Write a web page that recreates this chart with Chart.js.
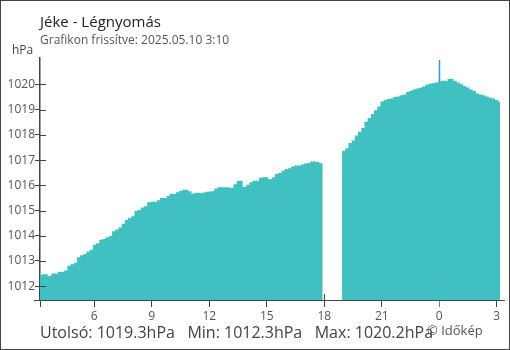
<!DOCTYPE html>
<html>
<head>
<meta charset="utf-8">
<script src="https://cdn.jsdelivr.net/npm/chart.js@4"></script>
<style>
  body { margin: 0; background: #fff; }
  #wrap { position: relative; width: 510px; height: 350px; box-sizing: border-box; border: 1px solid #444; background: #fff; font-family: "Open Sans", sans-serif; }
  #wrap canvas { position: absolute; left: 0; top: 0; }
  .txt { position: absolute; white-space: pre; }
  #title { left: 39px; top: 10px; font-size: 15px; line-height: 20px; color: #222; }
  #sub { left: 39px; top: 31px; font-size: 12px; line-height: 16px; color: #555; }
  #unit { left: 11px; top: 41px; font-size: 12px; line-height: 16px; color: #444; }
  #stats { left: 39px; top: 321px; font-size: 16px; line-height: 21px; color: #444; }
  #copy { left: 426px; top: 321px; font-size: 13px; line-height: 17px; color: #555; }
</style>
</head>
<body>
<div id="wrap">
  <canvas id="chart" width="508" height="348"></canvas>
  <div class="txt" id="title">Jéke - Légnyomás</div>
  <div class="txt" id="sub">Grafikon frissítve: 2025.05.10 3:10</div>
  <div class="txt" id="unit">hPa</div>
  <div class="txt" id="stats">Utolsó: 1019.3hPa   Min: 1012.3hPa   Max: 1020.2hPa</div>
  <div class="txt" id="copy">© Időkép</div>
</div>
<script>
// 10 perces értékek 03:10-tól (előző nap) 03:10-ig, hPa
const pressure = [
  1012.42, 1012.45, 1012.33, 1012.38, 1012.48, 1012.45, 1012.55, 1012.53, 1012.60, 1012.78,
  1012.84, 1012.90, 1013.12, 1013.20, 1013.25, 1013.35, 1013.42, 1013.62, 1013.68, 1013.82,
  1013.85, 1013.92, 1013.97, 1014.15, 1014.22, 1014.30, 1014.45, 1014.60, 1014.68, 1014.75,
  1014.97, 1015.00, 1015.10, 1015.15, 1015.30, 1015.32, 1015.30, 1015.38, 1015.47, 1015.45,
  1015.55, 1015.64, 1015.62, 1015.70, 1015.76, 1015.80, 1015.74, 1015.62, 1015.65, 1015.68,
  1015.64, 1015.68, 1015.72, 1015.72, 1015.74, 1015.85, 1015.90, 1015.88, 1015.90, 1015.86,
  1015.88, 1016.02, 1016.15, 1015.90, 1015.92, 1016.00, 1016.10, 1016.16, 1016.14, 1016.28,
  1016.30, 1016.22, 1016.22, 1016.30, 1016.42, 1016.46, 1016.55, 1016.62, 1016.65, 1016.72,
  1016.76, 1016.74, 1016.80, 1016.84, 1016.85, 1016.92, 1016.90, 1016.85,
  null, null, null, null, null, null, null,
  1017.35, 1017.45, 1017.65, 1017.75, 1017.95, 1018.10, 1018.25, 1018.50, 1018.65, 1018.80,
  1018.95, 1019.10, 1019.30, 1019.35, 1019.40, 1019.42, 1019.48, 1019.50, 1019.55, 1019.58,
  1019.68, 1019.72, 1019.78, 1019.82, 1019.85, 1019.90, 1019.97, 1020.00, 1020.02, 1020.05,
  1020.10, 1020.12, 1020.08, 1020.20, 1020.12, 1020.05, 1019.98, 1019.92, 1019.86, 1019.78,
  1019.72, 1019.62, 1019.58, 1019.55, 1019.50, 1019.45, 1019.42, 1019.36, 1019.30
];
const startHour = 3 + 10 / 60;
const stepHours = 10 / 60;
const times = pressure.map((v, i) => startHour + (i + 0.5) * stepHours);
const xTicks = [6, 9, 12, 15, 18, 21, 24, 27];
const yTicks = [1012, 1013, 1014, 1015, 1016, 1017, 1018, 1019, 1020];
const midnight = 24;

const axisColor = '#444';
const barColor = 'rgb(65, 192, 193)';
const dayColor = '#3b95d1';

const extras = {
  id: 'extras',
  beforeDatasetsDraw(chart) {
    const { ctx, chartArea } = chart;
    const x = Math.round(chart.scales.x.getPixelForValue(midnight)) + 0.5;
    ctx.save();
    ctx.strokeStyle = dayColor;
    ctx.lineWidth = 1.5;
    ctx.beginPath();
    ctx.moveTo(x, chartArea.top + 2);
    ctx.lineTo(x, chartArea.bottom);
    ctx.stroke();
    ctx.restore();
  },
  afterDraw(chart) {
    const { ctx, chartArea } = chart;
    const y = chart.scales.y;
    ctx.save();
    ctx.strokeStyle = axisColor;
    ctx.lineWidth = 1;
    ctx.beginPath();
    // x tengely kinyúlik
    ctx.moveTo(chartArea.left - 6, chartArea.bottom + 0.5);
    ctx.lineTo(chartArea.right + 5, chartArea.bottom + 0.5);
    // y tengely lefelé
    ctx.moveTo(chartArea.left + 0.5, chartArea.bottom);
    ctx.lineTo(chartArea.left + 0.5, chartArea.bottom + 7);
    yTicks.forEach(v => {
      const py = Math.round(y.getPixelForValue(v)) + 0.5;
      ctx.moveTo(chartArea.left, py);
      ctx.lineTo(chartArea.left + 6, py);
    });
    // 18 órás jel
    const p18 = Math.round(chart.scales.x.getPixelForValue(18)) + 0.5;
    ctx.moveTo(p18, chartArea.bottom - 6);
    ctx.lineTo(p18, chartArea.bottom);
    ctx.stroke();
    ctx.restore();
  }
};

new Chart(document.getElementById('chart'), {
  type: 'bar',
  data: {
    datasets: [{
      data: times.map((t, i) => ({ x: t, y: pressure[i] })),
      backgroundColor: barColor,
      borderWidth: 0,
      inflateAmount: 0.6,
      barPercentage: 1.5,
      categoryPercentage: 1
    }]
  },
  options: {
    responsive: false,
    animation: false,
    devicePixelRatio: 1,
    layout: { padding: { top: 57, right: 9, left: 0, bottom: 0 } },
    plugins: { legend: { display: false }, tooltip: { enabled: false } },
    scales: {
      x: {
        type: 'linear',
        offset: false,
        min: startHour,
        max: startHour + 24,
        afterFit: s => { s.height = 49; },
        afterBuildTicks: s => { s.ticks = xTicks.map(v => ({ value: v })); },
        ticks: {
          autoSkip: false,
          maxRotation: 0,
          padding: 2,
          color: '#555',
          font: { family: 'Open Sans', size: 12 },
          callback: v => String(v % 24)
        },
        grid: {
          drawOnChartArea: false,
          offset: false,
          tickLength: 7,
          lineWidth: 1,
          color: c => (c.tick && c.tick.value === midnight ? dayColor : axisColor)
        },
        border: { color: axisColor, width: 1 }
      },
      y: {
        min: 1011.45,
        max: 1021.05,
        afterFit: s => { s.width = 39; },
        afterBuildTicks: s => { s.ticks = yTicks.map(v => ({ value: v })); },
        ticks: {
          padding: 0,
          color: '#555',
          font: { family: 'Open Sans', size: 12 },
          callback: v => String(v)
        },
        grid: { drawOnChartArea: false, tickLength: 5, color: axisColor },
        border: { color: axisColor, width: 1.5 }
      }
    }
  },
  plugins: [extras]
});
</script>
</body>
</html>
